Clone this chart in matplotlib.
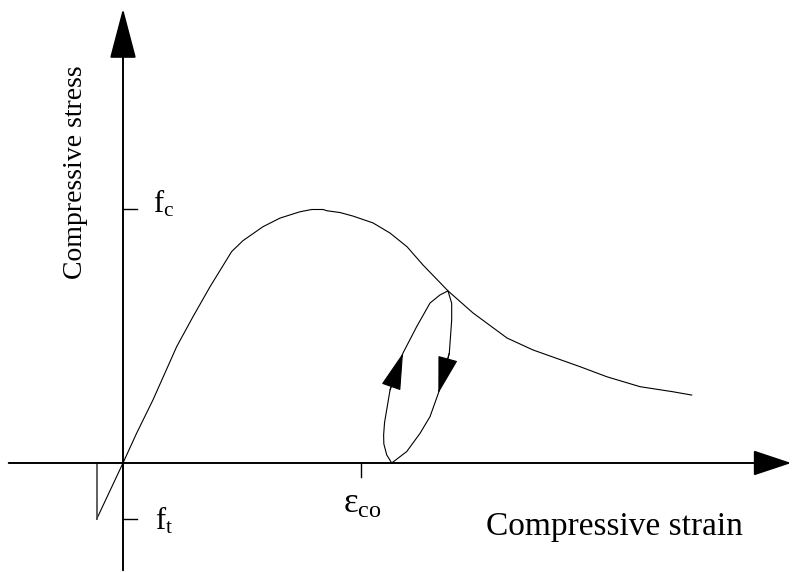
import matplotlib
matplotlib.use("Agg")
import matplotlib.pyplot as plt
import numpy as np

plt.rcParams['font.family'] = ['Liberation Serif', 'DejaVu Serif']
plt.rcParams['mathtext.fontset'] = 'custom'
plt.rcParams['mathtext.rm'] = 'Liberation Serif'
plt.rcParams['mathtext.it'] = 'Liberation Serif:italic'

# envelope curve (strain in 1e-3, stress normalised by f_c)
strain_env = [0.0, 0.115, 0.252, 0.451, 0.588, 0.731, 0.913, 1.008, 1.176, 1.319,
              1.487, 1.586, 1.681, 1.714, 1.824, 1.933, 2.101, 2.244, 2.387, 2.521,
              2.731, 2.941, 3.227, 3.445, 3.840, 4.067, 4.345, 4.622, 4.779]
stress_env = [0.0, 0.118, 0.249, 0.459, 0.577, 0.695, 0.834, 0.877, 0.932, 0.966,
              0.991, 1.0, 1.0, 0.995, 0.988, 0.974, 0.947, 0.907, 0.853, 0.781,
              0.679, 0.592, 0.493, 0.446, 0.380, 0.340, 0.301, 0.281, 0.268]

# tension branch
strain_ten = [0.0, -0.221]
stress_ten = [0.0, -0.221]

# unloading / reloading loop
strain_loop = [2.258, 2.216, 2.192, 2.190, 2.198, 2.244, 2.353, 2.468, 2.580, 2.664,
               2.731, 2.762, 2.762, 2.742, 2.650, 2.580, 2.496, 2.384, 2.258]
stress_loop = [0.0, 0.032, 0.075, 0.110, 0.160, 0.288, 0.434, 0.538, 0.631, 0.663,
               0.679, 0.630, 0.564, 0.433, 0.275, 0.183, 0.117, 0.045, 0.0]

f_c = 1.0
f_t = -0.22
eps_co = 2.0

fig = plt.figure(figsize=(7.92, 5.72), dpi=100)
ax = fig.add_axes([0, 0, 1, 1])
ax.set_xlim(-1.0336, 5.6218)
ax.set_ylim(-0.430, 1.8264)
ax.axis('off')

axis_col = '#444444'

# axes with arrow heads
ax.annotate('', xy=(0.999, 0), xytext=(0.011, 0),
            xycoords=('axes fraction', 'data'),
            arrowprops=dict(arrowstyle='-|>,head_length=24,head_width=8',
                            mutation_scale=1, lw=1.4, color=axis_col,
                            fc='black', ec='black', shrinkA=0, shrinkB=0))
ax.annotate('', xy=(0, 0.985), xytext=(0, 0.003),
            xycoords=('data', 'axes fraction'),
            arrowprops=dict(arrowstyle='-|>,head_length=32,head_width=8.4',
                            mutation_scale=1, lw=1.4, color=axis_col,
                            fc='black', ec='black', shrinkA=0, shrinkB=0))

# curves
ax.plot(strain_env, stress_env, color='black', lw=0.8)
ax.plot(strain_ten, stress_ten, color='black', lw=0.8)
ax.plot([strain_ten[-1], strain_ten[-1]], [stress_ten[-1], 0], color=axis_col, lw=1.2)
ax.plot(strain_loop, stress_loop, color='black', lw=0.8)

# loop direction arrows
for i, j in [(5, 6), (13, 14)]:
    ax.annotate('', xy=(strain_loop[j], stress_loop[j]),
                xytext=(strain_loop[i], stress_loop[i]),
                arrowprops=dict(arrowstyle='-|>,head_length=24,head_width=6.5',
                                mutation_scale=1, lw=0.8, color='black',
                                shrinkA=0, shrinkB=0))

# ticks for f_c, f_t and eps_co
ax.plot([0, 0.118], [f_c, f_c], color='black', lw=1.0)
ax.plot([0, 0.118], [f_t, f_t], color='black', lw=1.0)
ax.plot([eps_co, eps_co], [0, -0.055], color='black', lw=1.0)

ax.text(0.252, 0.99, r'$\mathrm{f}_\mathrm{c}$', fontsize=22, va='baseline', ha='left')
ax.text(0.269, -0.264, r'$\mathrm{f}_\mathrm{t}$', fontsize=22, va='baseline', ha='left')
ax.text(1.849, -0.197, r'$\mathrm{ε}_\mathrm{co}$', fontsize=25, va='baseline', ha='left')

ax.text(5.21, -0.284, 'Compressive strain', fontsize=24, ha='right', va='baseline')
ax.text(-0.395, 1.148, 'Compressive stress', fontsize=20, rotation=90,
        ha='center', va='center')

fig.savefig('out.png', dpi=100)
